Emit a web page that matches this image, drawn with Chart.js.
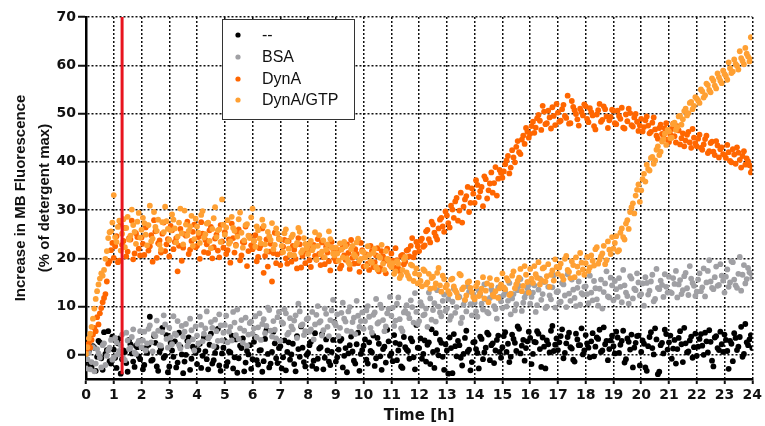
<!DOCTYPE html>
<html>
<head>
<meta charset="utf-8">
<script src="https://cdn.jsdelivr.net/npm/chart.js@4.4.1/dist/chart.umd.min.js"></script>
<style>
  html, body { margin: 0; padding: 0; background: #fff; }
  #wrap { width: 765px; height: 426px; }
</style>
</head>
<body>
<div id="wrap"><canvas id="chart" width="765" height="426"></canvas></div>
<script>
// MB fluorescence time course. Two interleaved reading sets per curve:
// "A" at 0, 0.1, 0.2 ... 24 h and "B" at 0.05, 0.15 ... 23.95 h
const T_STEP = 0.1;
const xTicks = [0,1,2,3,4,5,6,7,8,9,10,11,12,13,14,15,16,17,18,19,20,21,22,23,24];
const yTicks = [0,10,20,30,40,50,60,70];
const labels = ["--", "BSA", "DynA", "DynA/GTP"];
const colors = ["#000000", "#a0a0a4", "#ff6600", "#ffa033"];
const markerTime = 1.3;   // red line

// "--" (buffer only)
const noneA = [
  -1.2, 0.8, -2.5, 1.5, -0.4, 2.6, -3.1, 0.2, 4.9, -1.8,
  1.1, -2.7, 3.4, -0.9, 0.6, -3.5, 2.2, -1.4, 1.9, -0.3,
  3.0, -2.1, 0.4, 7.9, -1.0, 2.5, -3.3, 1.3, -0.6, 4.1,
  -2.4, 0.9, 2.8, -1.6, 1.7, -3.8, 0.0, 3.6, -0.8, 1.2,
  -1.9, 2.3, -0.2, 0.7, -3.0, 4.4, -1.1, 1.6, -2.2, 0.3,
  2.9, -1.5, 0.5, -2.8, 3.2, -0.7, 1.4, -3.4, 0.8, 2.0,
  -0.9, 3.7, -2.0, 1.0, -1.3, 5.1, -2.6, 0.6, 2.4, -1.7,
  1.8, -0.5, -3.2, 2.6, 0.1, -1.9, 3.9, -0.4, 1.5, -2.4,
  0.4, 2.7, -1.2, -2.9, 1.3, 4.3, -0.6, 0.9, -2.1, 3.1,
  -1.4, 1.1, 3.3, -0.2, -3.6, 2.0, 0.7, -1.8, 4.6, 0.2,
  1.9, -1.0, 2.6, 0.5, -2.3, 3.5, -0.3, 1.2, -1.6, 2.8,
  0.3, 4.1, -1.1, 2.2, -2.7, 1.6, 0.8, 3.4, -0.5, 6.2,
  1.4, -0.8, 3.0, 2.1, -1.9, 0.6, 4.5, -0.1, 2.5, -3.1,
  0.9, 3.6, -3.8, 1.8, 2.9, -0.6, 0.2, 5.0, 1.1, -1.5,
  2.7, 0.4, 3.8, -0.9, 1.5, 4.2, 2.0, -1.7, 3.1, 0.6,
  1.6, 4.7, 2.3, -0.4, 3.3, 0.8, 5.4, 1.9, -1.2, 2.8,
  3.5, 0.2, 2.6, 4.4, -2.5, 1.7, 3.0, 0.5, 6.0, 2.1,
  1.0, 3.9, -0.7, 2.4, 4.6, 1.3, -1.4, 3.2, 2.0, 0.1,
  4.1, 1.5, 2.8, -0.3, 3.6, 5.2, 0.9, 2.2, -1.1, 3.0,
  1.8, 4.8, 0.4, 2.9, -1.6, 3.4, 1.1, -2.6, 2.5, 4.0,
  0.6, 2.3, -3.3, 3.7, 1.4, 5.5, -4.0, 2.0, 0.3, 4.3,
  2.6, -0.8, 3.1, 1.2, 4.9, -1.5, 2.4, 0.7, 3.8, 1.6,
  -0.2, 3.3, 1.9, 4.6, 0.5, 2.7, -2.4, 3.9, 1.0, 2.2,
  4.2, 0.8, 2.9, -1.3, 3.5, 1.7, 5.8, 0.2, 2.6, 3.2,
  1.4
];
const noneB = [
  0.5, -2.0, 1.8, -3.3, 2.9, -0.7, 4.7, 1.0, -1.3, 3.8,
  -0.6, 2.4, -3.9, 0.9, -1.7, 3.1, 0.3, -2.5, 1.6, -0.9,
  -3.0, 1.4, 2.1, -1.2, 3.9, -2.4, 0.6, 5.6, -0.2, -3.6,
  2.5, -0.4, -2.6, 4.6, 0.1, -1.4, 2.9, -3.1, 1.7, 0.4,
  1.0, -2.7, 3.6, -0.9, 2.1, -1.8, 0.4, 5.4, -3.3, 1.5,
  -2.3, 0.7, 4.0, -0.5, -3.7, 1.9, 3.4, -1.6, 0.1, -2.9,
  2.7, -1.1, 0.9, -3.5, 3.3, 0.2, -1.8, 4.8, -0.7, 1.4,
  -2.8, 3.0, 0.6, -1.0, 2.3, -3.4, 1.2, 5.9, -1.5, 0.0,
  2.0, -2.3, 4.5, -0.8, 1.6, -3.0, 3.2, -1.4, 0.6, 6.8,
  -0.5, 2.9, -2.6, 1.4, 0.3, 3.8, -1.2, 2.2, -3.3, 1.0,
  3.2, -1.8, 0.8, 4.0, -0.7, 2.3, -3.1, 1.7, 5.2, -0.2,
  -1.3, 2.5, 0.9, -2.4, 3.7, 1.1, -0.8, 2.8, -3.0, 1.5,
  3.4, 0.2, -1.4, 2.6, 5.3, -2.7, 1.0, 3.1, -0.4, 2.2,
  -3.9, 1.4, 4.3, -0.3, 2.0, -2.2, 3.5, 0.7, -3.2, 2.6,
  1.2, -2.8, 3.3, 0.5, 4.6, -1.1, 2.4, 0.9, 4.0, -0.6,
  3.9, 0.6, -1.5, 4.2, 2.5, 5.9, 0.3, 3.1, 1.4, 4.8,
  -1.9, 2.7, 4.9, 1.2, 3.6, -2.8, 2.2, 5.0, 0.8, 3.4,
  2.6, 5.3, 0.4, 3.7, 1.6, -1.0, 4.4, 2.0, 5.5, 0.9,
  2.4, -0.5, 4.5, 1.7, 3.3, 0.6, 5.7, 2.9, 1.2, 4.0,
  0.3, 3.6, 2.1, 5.0, -0.9, 2.7, 4.2, 1.5, 3.9, -2.2,
  3.0, -2.6, 1.8, 4.7, 0.1, 3.2, -3.5, 2.5, 5.2, 1.1,
  4.0, 1.3, -1.8, 3.5, 2.2, 5.6, 0.5, 3.0, -0.6, 4.4,
  1.7, 4.3, 0.0, 2.8, 5.1, -1.2, 3.6, 1.4, 4.8, 0.6,
  3.1, -2.9, 2.3, 4.5, 1.0, 3.7, -0.4, 6.4, 2.0, 4.1
];

// BSA
const bsaA = [
  -2.8, 0.4, -1.5, -3.4, 1.2, -0.6, 2.0, -2.1, 0.9, 3.1,
  -0.5, 2.6, 0.8, 4.2, -1.1, 3.0, 1.5, 5.3, 0.2, 2.9,
  1.6, 4.8, 2.4, 6.1, 0.7, 3.9, 5.0, 1.9, 8.2, 3.3,
  5.6, 2.2, 4.4, 7.0, 1.3, 3.8, 6.4, 2.7, 5.1, 0.9,
  4.0, 7.9, 2.8, 5.5, 3.4, 6.8, 1.8, 4.9, 8.4, 3.0,
  6.2, 2.6, 5.8, 8.9, 4.1, 3.3, 7.2, 5.0, 1.9, 6.6,
  4.4, 8.0, 5.7, 3.1, 7.4, 6.0, 9.3, 3.8, 5.2, 7.8,
  2.9, 6.5, 8.6, 4.6, 5.9, 7.1, 3.5, 9.0, 6.3, 4.9,
  7.6, 5.3, 3.2, 8.3, 6.7, 4.0, 9.6, 5.8, 7.2, 11.4,
  6.1, 3.9, 8.7, 7.5, 5.0, 9.9, 6.8, 4.3, 8.1, 7.0,
  5.4, 9.2, 7.9, 4.6, 8.8, 6.5, 10.4, 7.2, 5.9, 9.5,
  8.1, 6.0, 10.6, 7.4, 4.9, 9.1, 8.5, 11.3, 6.7, 8.9,
  7.0, 10.2, 8.4, 5.8, 11.7, 9.3, 6.9, 10.0, 8.0, 12.5,
  9.6, 7.3, 11.0, 8.7, 12.2, 6.6, 10.4, 9.0, 13.1, 8.2,
  10.8, 7.9, 12.4, 9.4, 11.5, 8.6, 13.6, 10.1, 7.5, 12.0,
  9.7, 13.0, 11.2, 8.4, 12.6, 10.5, 14.3, 9.1, 11.9, 13.8,
  10.6, 12.9, 8.9, 13.5, 11.4, 15.1, 10.0, 12.3, 14.0, 9.8,
  13.2, 11.0, 14.6, 9.9, 12.7, 15.6, 11.8, 13.9, 10.4, 12.5,
  14.2, 10.7, 12.9, 15.3, 11.5, 13.7, 9.6, 14.8, 12.1, 16.0,
  11.3, 13.6, 15.9, 10.9, 14.4, 12.2, 16.3, 11.7, 13.4, 15.0,
  12.6, 10.2, 14.9, 13.3, 16.6, 11.6, 13.9, 15.4, 12.0, 14.1,
  16.2, 12.8, 14.7, 11.9, 15.5, 13.4, 17.0, 12.4, 15.8, 14.3,
  13.1, 16.9, 14.0, 12.1, 17.4, 15.2, 13.6, 18.3, 14.5, 16.4,
  12.9, 17.7, 15.0, 19.2, 14.4, 16.8, 13.3, 18.6, 15.7, 17.1,
  16.0
];
const bsaB = [
  -0.9, -3.0, 1.6, -1.8, 0.3, -2.6, 2.4, -0.2, 1.5, -1.0,
  3.5, 0.1, 2.0, -0.8, 4.6, 1.2, 3.7, 0.5, 2.3, 4.9,
  3.0, 0.9, 5.4, 2.6, 4.3, 7.1, 2.0, 4.7, 6.3, 1.5,
  3.6, 8.0, 4.1, 2.1, 6.0, 4.8, 1.8, 7.5, 3.2, 5.9,
  2.4, 6.2, 4.4, 9.0, 3.8, 5.6, 7.3, 2.9, 6.1, 4.6,
  8.1, 4.8, 3.0, 6.7, 9.4, 5.5, 2.5, 7.7, 4.2, 6.9,
  5.5, 3.6, 8.6, 6.4, 4.5, 9.8, 5.0, 7.0, 3.4, 8.9,
  6.8, 9.4, 4.2, 7.6, 5.3, 8.2, 10.6, 6.1, 4.1, 7.4,
  4.8, 8.9, 6.3, 10.1, 7.0, 5.1, 8.5, 3.9, 9.2, 6.6,
  8.4, 5.6, 10.8, 6.9, 9.0, 4.8, 7.7, 11.2, 5.8, 8.8,
  7.0, 10.1, 5.6, 8.3, 11.6, 6.8, 9.7, 4.9, 8.6, 12.0,
  9.8, 7.1, 11.9, 5.5, 8.8, 10.3, 7.6, 9.9, 12.8, 6.4,
  10.9, 8.2, 9.6, 12.9, 7.3, 10.7, 13.4, 8.8, 11.2, 9.1,
  11.6, 8.0, 13.7, 9.9, 12.0, 7.7, 11.3, 14.2, 10.5, 12.6,
  9.0, 13.3, 10.6, 14.6, 8.9, 11.8, 12.9, 9.5, 14.0, 11.1,
  12.4, 10.0, 14.9, 11.7, 9.2, 13.4, 15.7, 10.8, 12.7, 14.5,
  12.0, 14.4, 10.3, 15.8, 12.6, 9.7, 14.1, 11.5, 16.5, 13.0,
  10.8, 14.9, 12.3, 16.7, 11.2, 13.5, 10.1, 15.2, 12.8, 14.1,
  12.6, 16.4, 11.3, 13.8, 10.2, 15.6, 13.0, 17.3, 11.9, 14.4,
  15.3, 12.0, 14.1, 17.6, 12.9, 10.6, 15.8, 13.7, 16.9, 12.3,
  14.8, 16.1, 12.5, 15.2, 11.1, 17.8, 13.6, 14.5, 16.7, 12.9,
  13.0, 15.9, 17.4, 14.6, 12.6, 16.3, 13.8, 18.4, 14.9, 12.2,
  15.6, 13.2, 17.9, 15.0, 19.6, 13.9, 16.1, 14.3, 18.8, 15.4,
  16.2, 14.1, 19.4, 15.6, 13.9, 20.3, 16.6, 14.8, 18.0, 16.9
];

// DynA
const dynaA = [
  1.0, 2.4, 3.1, 5.6, 7.8, 8.6, 10.9, 12.6, 18.9, 21.7,
  20.1, 24.6, 19.5, 22.8, 26.3, 21.4, 23.9, 19.8, 25.2, 22.0,
  24.3, 20.7, 26.8, 22.5, 19.3, 25.6, 23.1, 21.2, 27.4, 22.9,
  20.4, 25.8, 23.4, 17.3, 26.1, 22.2, 24.7, 20.9, 23.6, 27.0,
  22.6, 19.9, 25.1, 23.8, 21.1, 26.5, 22.3, 24.9, 20.2, 23.5,
  25.4, 21.7, 19.1, 24.2, 22.8, 26.0, 20.6, 23.3, 18.4, 24.6,
  21.9, 24.8, 20.3, 22.7, 17.0, 23.9, 21.4, 15.2, 25.3, 20.8,
  18.6, 22.4, 20.0, 23.6, 19.3, 21.8, 17.9, 22.9, 20.5, 19.0,
  21.6, 18.2, 22.8, 19.7, 20.9, 23.3, 18.8, 21.2, 17.5, 22.1,
  19.4, 21.7, 18.5, 20.6, 22.9, 17.8, 20.1, 21.9, 19.0, 23.2,
  18.3, 20.8, 17.6, 21.5, 19.2, 22.1, 18.0, 20.4, 16.9, 19.8,
  21.0, 18.1, 19.6, 17.4, 20.7, 19.3, 21.8, 22.6, 20.2, 23.4,
  21.5, 24.1, 22.7, 25.9, 23.3, 27.0, 24.6, 26.2, 28.4, 25.5,
  28.9, 26.4, 30.1, 31.8, 27.8, 33.6, 30.7, 32.9, 29.6, 34.5,
  31.5, 35.2, 33.9, 30.8, 36.4, 34.1, 37.8, 35.6, 33.0, 38.3,
  36.7, 39.5, 41.2, 38.8, 40.9, 43.1, 42.0, 44.6, 43.7, 46.2,
  45.8, 48.3, 47.1, 49.7, 46.6, 50.4, 48.0, 49.2, 51.3, 47.6,
  50.2, 48.5, 51.8, 49.1, 47.9, 52.6, 50.7, 48.8, 51.0, 49.6,
  51.5, 48.2, 50.3, 47.4, 49.8, 52.0, 48.7, 50.9, 47.0, 49.3,
  50.6, 47.8, 49.5, 51.2, 46.9, 48.4, 50.1, 47.3, 49.9, 46.4,
  48.9, 47.2, 49.4, 45.9, 48.1, 46.7, 44.8, 47.7, 45.5, 48.0,
  44.1, 46.8, 45.3, 47.4, 43.6, 45.9, 44.4, 46.2, 42.9, 45.0,
  43.2, 45.6, 42.5, 44.7, 41.8, 43.9, 42.1, 44.3, 40.9, 43.0,
  41.4, 43.5, 40.2, 42.6, 39.6, 41.9, 38.8, 42.2, 40.7, 39.3,
  38.5
];
const dynaB = [
  1.8, 1.5, 4.2, 4.9, 6.3, 9.7, 11.8, 15.2, 19.4, 23.2,
  22.5, 19.2, 27.1, 23.6, 20.4, 24.2, 27.8, 21.0, 24.4, 20.6,
  23.0, 26.4, 21.6, 24.8, 27.9, 20.1, 23.7, 25.1, 21.5, 24.0,
  26.7, 21.9, 24.2, 22.6, 19.5, 25.0, 27.6, 21.8, 25.5, 22.3,
  24.4, 27.5, 21.3, 22.9, 25.8, 20.0, 24.1, 21.6, 26.9, 22.2,
  20.9, 23.9, 27.2, 21.2, 25.3, 19.6, 23.4, 26.6, 21.5, 22.7,
  23.6, 19.4, 22.1, 26.2, 20.5, 18.3, 23.0, 21.1, 19.0, 24.1,
  21.2, 23.8, 18.9, 20.7, 22.6, 19.9, 24.2, 18.1, 21.4, 22.7,
  19.6, 22.3, 20.5, 24.0, 18.6, 20.2, 22.4, 19.4, 23.4, 20.0,
  21.3, 17.9, 22.3, 19.7, 21.1, 23.8, 18.9, 20.9, 17.2, 21.7,
  20.2, 18.9, 22.6, 18.2, 20.6, 17.3, 21.5, 19.4, 22.0, 18.6,
  19.5, 22.1, 17.9, 20.5, 18.8, 21.6, 20.4, 24.2, 21.1, 22.5,
  23.6, 22.4, 25.6, 24.0, 27.6, 25.3, 23.9, 28.0, 26.6, 29.7,
  27.3, 30.9, 28.4, 32.5, 29.9, 27.4, 32.2, 34.8, 31.5, 33.4,
  36.2, 32.7, 34.8, 37.0, 32.4, 35.5, 33.6, 38.9, 36.5, 37.7,
  38.0, 40.3, 37.6, 42.4, 39.9, 44.3, 41.6, 45.4, 47.0, 45.0,
  47.4, 46.0, 49.0, 48.5, 51.6, 47.8, 50.6, 46.9, 49.5, 52.0,
  48.3, 50.9, 49.5, 53.7, 48.0, 51.4, 49.9, 47.5, 50.4, 51.9,
  48.9, 51.1, 49.6, 46.7, 50.7, 48.3, 51.5, 49.4, 48.6, 50.8,
  48.0, 50.6, 48.9, 47.1, 49.8, 51.0, 47.6, 49.2, 48.3, 47.5,
  46.3, 48.6, 47.5, 46.2, 49.2, 45.4, 47.0, 45.8, 46.9, 44.6,
  45.7, 47.9, 44.0, 46.5, 44.9, 43.2, 45.6, 44.0, 46.8, 43.8,
  44.8, 42.9, 43.6, 45.4, 42.2, 44.2, 41.4, 43.4, 42.6, 41.6,
  40.8, 42.0, 39.9, 41.5, 43.0, 40.4, 41.2, 39.4, 40.1, 37.8
];

// DynA/GTP
const gtpA = [
  0.2, 3.4, 5.8, 9.6, 13.2, 15.8, 16.4, 19.9, 24.2, 25.6,
  33.1, 23.4, 27.8, 25.1, 22.3, 28.6, 24.7, 26.9, 23.0, 29.4,
  25.9, 27.3, 22.7, 30.9, 24.1, 26.5, 28.0, 21.8, 25.4, 27.7,
  23.8, 29.1, 26.2, 24.5, 30.3, 22.9, 27.0, 25.7, 28.8, 24.0,
  26.6, 23.2, 29.8, 25.0, 27.4, 22.1, 28.3, 24.4, 26.0, 32.2,
  24.9, 27.9, 23.5, 26.3, 22.6, 28.1, 25.3, 23.7, 27.1, 24.2,
  30.3, 22.4, 25.8, 23.1, 26.7, 21.5, 24.6, 27.3, 22.8, 25.1,
  23.9, 21.3, 26.0, 22.0, 24.4, 20.6, 23.2, 25.5, 21.7, 23.0,
  20.9, 23.6, 22.3, 19.8, 24.8, 21.4, 20.2, 22.9, 24.0, 21.0,
  22.2, 19.5, 21.8, 23.4, 20.0, 18.7, 22.6, 20.4, 24.1, 19.9,
  21.3, 18.4, 20.7, 19.1, 22.0, 17.7, 20.1, 18.9, 21.5, 19.6,
  18.2, 16.8, 19.4, 15.9, 17.6, 20.3, 16.4, 18.7, 15.3, 17.9,
  16.6, 14.2, 17.4, 15.0, 13.7, 16.2, 14.8, 18.0, 13.1, 15.7,
  14.5, 12.6, 15.8, 13.4, 11.9, 16.5, 14.0, 12.3, 15.2, 13.0,
  11.5, 14.9, 12.8, 16.1, 13.3, 10.9, 14.4, 12.1, 15.6, 13.8,
  16.9, 13.6, 15.4, 12.7, 17.3, 14.6, 16.0, 13.2, 18.4, 15.1,
  17.8, 14.9, 16.7, 19.2, 15.5, 18.1, 16.3, 14.1, 17.5, 19.8,
  16.8, 18.9, 15.6, 20.5, 17.2, 19.4, 16.1, 18.3, 21.1, 17.7,
  19.0, 17.4, 20.6, 18.5, 22.3, 19.7, 21.0, 18.8, 23.5, 20.9,
  22.0, 24.6, 21.7, 26.2, 23.9, 27.9, 29.6, 31.4, 33.0, 35.3,
  34.1, 37.5, 39.4, 38.2, 41.0, 40.3, 43.2, 42.1, 44.7, 43.5,
  46.3, 45.0, 48.1, 47.2, 49.5, 48.8, 51.0, 50.1, 52.4, 51.6,
  53.1, 52.2, 54.6, 53.8, 55.9, 54.4, 56.8, 55.2, 57.5, 56.3,
  58.2, 57.0, 59.4, 58.7, 60.3, 59.1, 61.5, 60.2, 62.4, 60.8,
  61.2
];
const gtpB = [
  1.6, 4.4, 7.5, 11.6, 14.6, 16.9, 17.6, 21.5, 25.4, 27.4,
  24.4, 26.5, 21.6, 28.1, 26.3, 23.9, 30.1, 25.5, 27.6, 24.3,
  28.4, 24.9, 26.9, 23.5, 29.6, 25.7, 22.8, 27.5, 30.7, 26.1,
  25.8, 28.0, 23.3, 27.4, 25.2, 29.9, 24.8, 26.6, 22.6, 28.2,
  25.3, 29.0, 24.3, 27.2, 23.6, 26.1, 30.6, 25.8, 23.4, 27.0,
  26.4, 23.0, 28.6, 25.7, 24.5, 29.5, 22.2, 26.9, 24.7, 28.5,
  23.6, 26.6, 24.1, 28.0, 22.9, 25.5, 23.8, 21.9, 26.2, 24.0,
  22.6, 25.2, 23.5, 20.8, 24.9, 22.7, 26.3, 21.2, 24.2, 22.1,
  23.0, 21.7, 25.4, 22.6, 20.9, 23.7, 21.8, 25.6, 22.2, 20.6,
  21.0, 23.1, 20.2, 22.5, 19.2, 21.9, 20.8, 23.3, 19.5, 21.4,
  20.2, 22.5, 19.4, 21.1, 18.2, 20.4, 22.8, 17.6, 19.9, 18.8,
  19.0, 17.3, 18.9, 16.5, 19.8, 17.1, 15.8, 18.5, 16.9, 14.8,
  15.3, 17.7, 14.6, 16.8, 15.9, 13.9, 17.0, 14.4, 16.4, 14.0,
  13.2, 15.6, 14.2, 12.9, 16.8, 13.6, 11.4, 15.0, 13.9, 12.0,
  14.2, 12.2, 13.7, 11.7, 14.8, 15.9, 12.4, 13.2, 11.8, 14.6,
  14.0, 15.9, 12.4, 16.4, 13.8, 15.3, 17.8, 14.3, 16.6, 12.9,
  15.8, 18.4, 16.0, 14.6, 17.9, 15.2, 18.8, 16.6, 15.4, 18.2,
  18.1, 16.3, 19.9, 17.6, 15.9, 18.6, 20.2, 17.0, 19.1, 16.6,
  20.3, 18.1, 19.5, 21.9, 18.9, 20.4, 22.6, 19.6, 21.8, 24.4,
  23.2, 21.4, 25.3, 24.4, 27.2, 26.1, 30.6, 29.3, 34.2, 31.7,
  36.4, 35.9, 38.5, 40.8, 39.6, 42.5, 41.4, 44.2, 45.8, 46.6,
  44.9, 47.8, 46.6, 49.4, 47.7, 50.5, 49.6, 52.2, 50.9, 53.4,
  52.7, 55.0, 53.3, 56.2, 54.9, 57.3, 55.8, 58.3, 56.8, 58.9,
  57.8, 60.6, 58.4, 61.2, 59.9, 62.9, 60.9, 63.6, 61.8, 65.8
];

const toPoints = (vals, offset) =>
  vals.map((y, i) => ({ x: Math.round((i * T_STEP + offset) * 100) / 100, y }));

const TICK_FONT = { family: "'DejaVu Sans', sans-serif", size: 14, weight: "bold" };
const YTITLE_FONT = { family: "'Liberation Sans', Arial, sans-serif", size: 15, weight: "bold", lineHeight: 1.6 };
const XTITLE_FONT = { family: "'DejaVu Sans', sans-serif", size: 15, weight: "bold" };

function scatterSet(i, a, b) {
  return {
    label: labels[i],
    data: toPoints(a, 0).concat(toPoints(b, 0.05)),
    backgroundColor: colors[i],
    borderWidth: 0,
    pointRadius: 2.9,
    order: 4 - i,
  };
}

// legend box drawn inside the plot, like the original
const legendBox = {
  id: "legendBox",
  afterDraw(chart) {
    const ctx = chart.ctx;
    ctx.save();
    ctx.fillStyle = "#fff";
    ctx.fillRect(222, 19, 132, 100);
    ctx.strokeStyle = "#333";
    ctx.lineWidth = 1;
    ctx.strokeRect(222.5, 19.5, 132, 100);
    ctx.font = "16px 'Liberation Sans', Arial, sans-serif";
    ctx.textBaseline = "middle";
    const rows = [35, 57, 79, 100];
    labels.forEach((lab, i) => {
      ctx.fillStyle = colors[i];
      ctx.beginPath();
      ctx.arc(238, rows[i], 2.6, 0, Math.PI * 2);
      ctx.fill();
      ctx.fillStyle = "#111";
      ctx.fillText(lab, 262, rows[i] + 1);
    });
    ctx.restore();
  }
};

new Chart(document.getElementById("chart"), {
  type: "scatter",
  data: {
    datasets: [
      scatterSet(0, noneA, noneB),
      scatterSet(1, bsaA, bsaB),
      scatterSet(2, dynaA, dynaB),
      scatterSet(3, gtpA, gtpB),
      {
        type: "line",
        label: "marker",
        data: [{ x: markerTime, y: -4 }, { x: markerTime, y: 70 }],
        borderColor: "#e8141e",
        borderWidth: 3,
        pointRadius: 0,
        showLine: true,
        order: 0,
      },
    ],
  },
  options: {
    responsive: false,
    animation: false,
    devicePixelRatio: 1,
    layout: { padding: { top: 17, right: 11, bottom: 0, left: 0 } },
    plugins: { legend: { display: false }, tooltip: { enabled: false } },
    scales: {
      x: {
        type: "linear",
        min: 0,
        max: 24,
        afterBuildTicks: (s) => { s.ticks = xTicks.map(v => ({ value: v })); },
        afterFit: (s) => { s.height = 47; },
        ticks: { color: "#111", font: TICK_FONT, padding: 3, maxRotation: 0, autoSkip: false },
        grid: { color: "#111", lineWidth: 1.5, drawTicks: true, tickLength: 5, tickColor: "#111", tickWidth: 2 },
        border: { color: "#000", width: 2.5, dash: [2, 2] },
        title: { display: true, text: "Time [h]", color: "#111", font: XTITLE_FONT, padding: { top: 0, bottom: 1 } },
      },
      y: {
        type: "linear",
        min: -5,
        max: 70,
        afterBuildTicks: (s) => { s.ticks = yTicks.map(v => ({ value: v })); },
        afterFit: (s) => { s.width = 86; },
        ticks: { color: "#111", font: TICK_FONT, padding: 2 },
        grid: { color: "#111", lineWidth: 1.5, drawTicks: true, tickLength: 8, tickColor: "#111", tickWidth: 2 },
        border: { color: "#000", width: 2.5, dash: [2, 2] },
        title: {
          display: true,
          text: ["Increase in MB Fluorescence", "(% of detergent max)"],
          color: "#111",
          font: YTITLE_FONT,
          padding: { top: 9, bottom: 0 },
        },
      },
    },
  },
  plugins: [legendBox],
});
</script>
</body>
</html>
